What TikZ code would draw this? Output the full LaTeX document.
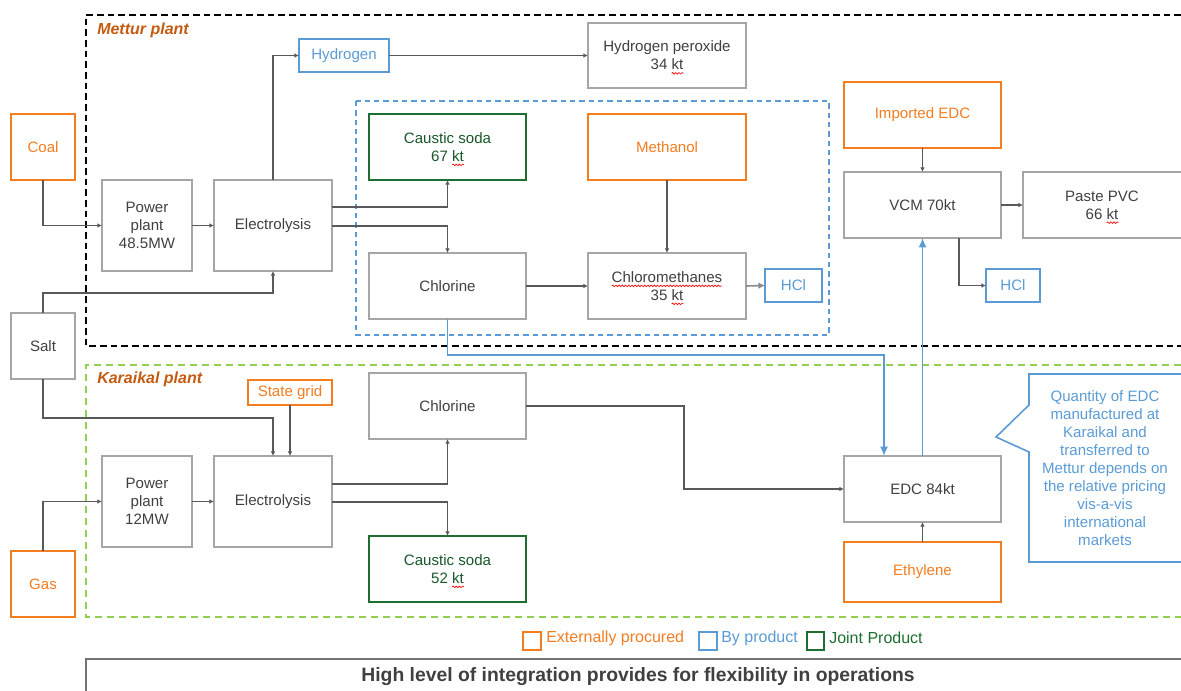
\documentclass[tikz,border=0pt]{standalone}
\usepackage{fontspec}
\setmainfont{Liberation Sans}
\usetikzlibrary{arrows.meta,decorations.pathmorphing}
\definecolor{orng}{RGB}{244,125,32}
\definecolor{bluec}{RGB}{91,155,213}
\definecolor{greenb}{RGB}{30,110,50}
\definecolor{boxgray}{RGB}{166,166,166}
\definecolor{conng}{RGB}{89,89,89}
\definecolor{txtg}{RGB}{64,64,64}
\definecolor{labbrown}{RGB}{197,90,17}
\definecolor{lgreen}{RGB}{146,208,80}
\newcommand\nf{\fontsize{11.3}{13.5}\selectfont}
\newsavebox\sqbox
\newcommand\squig[1]{\sbox\sqbox{#1}\rlap{\usebox\sqbox}\tikz[baseline=0pt]{\useasboundingbox (0pt,0pt) rectangle (\wd\sqbox,0pt);\draw[red,line width=0.5pt,decorate,decoration={snake,amplitude=0.6pt,segment length=2.4pt}] (0pt,-2.6pt) -- (\wd\sqbox,-2.6pt);}}
\newcommand\mybox[7]{\node[#6,minimum width={(#4-#2)*0.75pt},minimum height={(#5-#3)*0.75pt}] (#1) at ({(#2+#4)/2},{(#3+#5)/2}) {#7};}
\tikzset{
  box/.style={draw=boxgray,line width=1.1pt,inner sep=0pt,outer sep=0pt,align=center,font=\nf,text=txtg},
  obox/.style={box,draw=orng,text=orng},
  bbox/.style={box,draw=bluec,text=bluec},
  gbox/.style={box,draw=greenb,text=greenb!80!black},
  nbox/.style={box,draw=none},
  conn/.style={draw=conng,line width=1.2pt,-{Latex[length=3.5pt,width=3.5pt]}},
  connlight/.style={draw=conng!70,line width=1.2pt,-{Latex[length=5pt,width=5pt]}},
  blueconn/.style={draw=bluec,line width=1.2pt,-{Latex[length=7pt,width=6pt]}},
  grplabel/.style={anchor=west,inner sep=0pt,text=labbrown,font=\fontsize{12}{14}\selectfont\bfseries\itshape},
  legtxt/.style={anchor=west,inner sep=0pt,font=\fontsize{12}{14}\selectfont}
}
\begin{document}
\begin{tikzpicture}[x=0.75pt,y=-0.75pt]
\useasboundingbox (0,0) rectangle (1181,691);
% group frames
\draw[black,line width=1.1pt,dash pattern=on 5pt off 3pt] (1181,15) -- (86,15) -- (86,346) -- (1181,346);
\draw[bluec,line width=1pt,dash pattern=on 4pt off 3pt] (356,101) rectangle (829,335);
\draw[lgreen,line width=1.1pt,dash pattern=on 5pt off 4pt] (1181,365) -- (86,365) -- (86,617) -- (1181,617);
\node[grplabel] (lm) at (97,30) {Mettur plant};
\node[grplabel] (lk) at (97,379) {Karaikal plant};
% nodes
\mybox{coal}{11}{114}{75}{180}{obox}{Coal}
\mybox{salt}{11}{313}{75}{379}{box}{Salt}
\mybox{gas}{11}{551}{75}{617}{obox}{Gas}
\mybox{pp1}{102}{180}{192}{271}{box}{Power\\plant\\48.5MW}
\mybox{el1}{214}{180}{332}{271}{box}{Electrolysis}
\mybox{h2}{299}{39}{389}{72}{bbox}{Hydrogen}
\mybox{h2o2}{588}{23}{746}{88}{box}{Hydrogen peroxide\\34 \squig{kt}}
\mybox{cs1}{369}{114}{526}{180}{gbox}{Caustic soda\\67 \squig{kt}}
\mybox{meoh}{588}{114}{746}{180}{obox}{Methanol}
\mybox{cl1}{369}{253}{526}{319}{box}{Chlorine}
\mybox{cm}{588}{253}{746}{319}{box}{\squig{Chloromethanes}\\35 \squig{kt}}
\mybox{hcl1}{765}{269}{822}{302}{bbox}{HCl}
\mybox{iedc}{844}{82}{1001}{148}{obox}{Imported EDC}
\mybox{vcm}{844}{172}{1001}{238}{box}{VCM 70kt}
\mybox{pvc}{1023}{172}{1181}{238}{nbox}{Paste PVC\\66 \squig{kt}}
\draw[boxgray,line width=1.1pt] (pvc.north east) -- (pvc.north west) -- (pvc.south west) -- (pvc.south east);
\mybox{hcl2}{986}{269}{1040}{302}{bbox}{HCl}
\mybox{sg}{248}{380}{332}{405}{obox}{State grid}
\mybox{cl2}{369}{373}{526}{439}{box}{Chlorine}
\mybox{pp2}{102}{456}{192}{547}{box}{Power\\plant\\12MW}
\mybox{el2}{214}{456}{332}{547}{box}{Electrolysis}
\mybox{cs2}{369}{536}{526}{602}{gbox}{Caustic soda\\52 \squig{kt}}
\mybox{edc}{844}{456}{1001}{522}{box}{EDC 84kt}
\mybox{eth}{844}{542}{1001}{602}{obox}{Ethylene}
% callout
\draw[bluec,line width=1.2pt] (1181,374) -- (1029,374) -- (1029,405) -- (996,437) -- (1029,452) -- (1029,562) -- (1181,562);
\node[align=center,text=bluec,font=\nf,inner sep=0pt] (note) at (1105,468) {Quantity of EDC\\manufactured at\\Karaikal and\\transferred to\\Mettur depends on\\the relative pricing\\vis-a-vis\\international\\markets};
% connectors Mettur
\draw[conn] (coal.south) |- (pp1.west);
\draw[conn] (pp1.east) -- (el1.west);
\draw[conn] (salt.north) |- (el1.south |- 0,293) -- (el1.south);
\draw[conn] (el1.north) |- (h2.west);
\draw[conn] (h2.east) -- (h2o2.west);
\draw[conn] (el1.east |- 0,207) -| (cs1.south);
\draw[conn] (el1.east |- 0,226) -| (cl1.north);
\draw[conn] (cl1.east) -- (cm.west);
\draw[conn] (meoh.south) -- (cm.north);
\draw[connlight] (cm.east) -- (hcl1.west);
\draw[conn] (iedc.south) -- (vcm.north);
\draw[conn] (vcm.east) -- (pvc.west);
\draw[conn] (vcm.south -| 959,0) |- (hcl2.west);
% blue transfers
\draw[blueconn] (cl1.south) -- (cl1.south |- 0,355) -| (edc.north -| 884,0);
\draw[blueconn] (edc.north) -- (vcm.south);
% connectors Karaikal
\draw[conn] (salt.south) |- (el2.north |- 0,418) -- (el2.north -| 273,0);
\draw[conn] (sg.south) -- (sg.south |- el2.north);
\draw[conn] (gas.north) |- (pp2.west);
\draw[conn] (pp2.east) -- (el2.west);
\draw[conn] (el2.east |- 0,484) -| (cl2.south);
\draw[conn] (el2.east |- 0,502) -| (cs2.north);
\draw[conn] (cl2.east) -| (684,489) -- (edc.west);
\draw[conn] (eth.north) -- (edc.south);
% legend
\draw[orng,line width=1.1pt] (523,632) rectangle (541,650);
\node[legtxt,text=orng] (l1) at (546,638) {Externally procured};
\draw[bluec,line width=1.1pt] (699,632) rectangle (717,650);
\node[legtxt,text=bluec] (l2) at (721,638) {By product};
\draw[greenb,line width=1.1pt] (807,632) rectangle (824,650);
\node[legtxt,text=greenb] (l3) at (829,638) {Joint Product};
% bottom banner
\draw[black!55,line width=1.6pt] (1181,659) -- (86,659) -- (86,691);
\node[text=txtg,font=\fontsize{14.5}{16}\selectfont\bfseries,inner sep=0pt] (banner) at (638,677) {High level of integration provides for flexibility in operations};
\end{tikzpicture}
\end{document}
